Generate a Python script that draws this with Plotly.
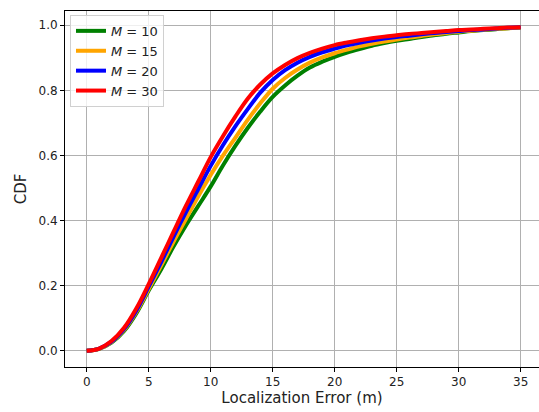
import plotly.graph_objects as go

x_vals = list(range(0, 36))

cdf_m10 = [0, 0.006, 0.025, 0.06, 0.115, 0.185, 0.25, 0.32, 0.385, 0.445, 0.505,
           0.57, 0.63, 0.685, 0.735, 0.78, 0.815, 0.845, 0.87, 0.888, 0.903,
           0.916, 0.927, 0.937, 0.945, 0.952, 0.958, 0.964, 0.969, 0.974, 0.978,
           0.982, 0.985, 0.988, 0.991, 0.993]
cdf_m15 = [0, 0.006, 0.027, 0.063, 0.119, 0.19, 0.262, 0.335, 0.405, 0.475, 0.54,
           0.6, 0.655, 0.71, 0.76, 0.805, 0.838, 0.864, 0.885, 0.901, 0.914,
           0.925, 0.935, 0.943, 0.95, 0.956, 0.962, 0.967, 0.972, 0.976, 0.98,
           0.983, 0.986, 0.989, 0.991, 0.993]
cdf_m20 = [0, 0.007, 0.028, 0.066, 0.123, 0.197, 0.272, 0.35, 0.425, 0.497, 0.568,
           0.632, 0.69, 0.743, 0.793, 0.832, 0.862, 0.885, 0.903, 0.917, 0.928,
           0.938, 0.946, 0.953, 0.959, 0.964, 0.968, 0.972, 0.976, 0.979, 0.982,
           0.985, 0.987, 0.99, 0.992, 0.994]
cdf_m30 = [0, 0.007, 0.03, 0.07, 0.13, 0.205, 0.285, 0.365, 0.445, 0.52, 0.595,
           0.66, 0.72, 0.775, 0.818, 0.852, 0.878, 0.899, 0.915, 0.928, 0.939,
           0.947, 0.954, 0.96, 0.965, 0.969, 0.973, 0.976, 0.979, 0.982, 0.985,
           0.987, 0.989, 0.991, 0.993, 0.994]

series_names = ["<i>M</i> = 10", "<i>M</i> = 15", "<i>M</i> = 20", "<i>M</i> = 30"]
series_values = [cdf_m10, cdf_m15, cdf_m20, cdf_m30]
series_colors = ["green", "orange", "blue", "red"]

x_ticks = [0, 5, 10, 15, 20, 25, 30, 35]
y_ticks = [0.0, 0.2, 0.4, 0.6, 0.8, 1.0]

fig = go.Figure()
for name, vals, col in zip(series_names, series_values, series_colors):
    fig.add_trace(go.Scatter(x=x_vals, y=vals, mode="lines", name=name,
                             line=dict(color=col, width=4, shape="spline")))

font_family = "DejaVu Sans"
fig.update_layout(
    width=539, height=412,
    margin=dict(l=65, r=0, t=11, b=45, autoexpand=False),
    plot_bgcolor="white", paper_bgcolor="white",
    font=dict(family=font_family, color="#222"),
    showlegend=True,
    legend=dict(x=0.0105, y=0.989, xanchor="left", yanchor="top",
                bgcolor="rgba(255,255,255,0.8)", bordercolor="#d0d0d0", borderwidth=1,
                font=dict(size=13, family=font_family, color="#222")),
    xaxis=dict(range=[-1.75, 36.48], tickvals=x_ticks, ticktext=[str(v) for v in x_ticks],
               automargin=False,
               showgrid=True, gridcolor="#b0b0b0", gridwidth=1, zeroline=False,
               showline=True, linecolor="black", linewidth=1, mirror=True,
               ticks="outside", ticklen=4, tickcolor="black",
               tickfont=dict(size=12, family=font_family),
               title=dict(text="Localization Error (m)", font=dict(size=15, family=font_family), standoff=4)),
    yaxis=dict(range=[-0.0497, 1.0437], tickvals=y_ticks, ticktext=["%.1f" % v for v in y_ticks],
               automargin=False,
               showgrid=True, gridcolor="#b0b0b0", gridwidth=1, zeroline=False,
               showline=True, linecolor="black", linewidth=1, mirror=False,
               ticks="outside", ticklen=4, tickcolor="black",
               tickfont=dict(size=12, family=font_family),
               title=dict(text="CDF", font=dict(size=15, family=font_family), standoff=8)),
)

fig.write_html("out.html", config={"displayModeBar": False},
               post_script="document.body.style.margin='0';")
